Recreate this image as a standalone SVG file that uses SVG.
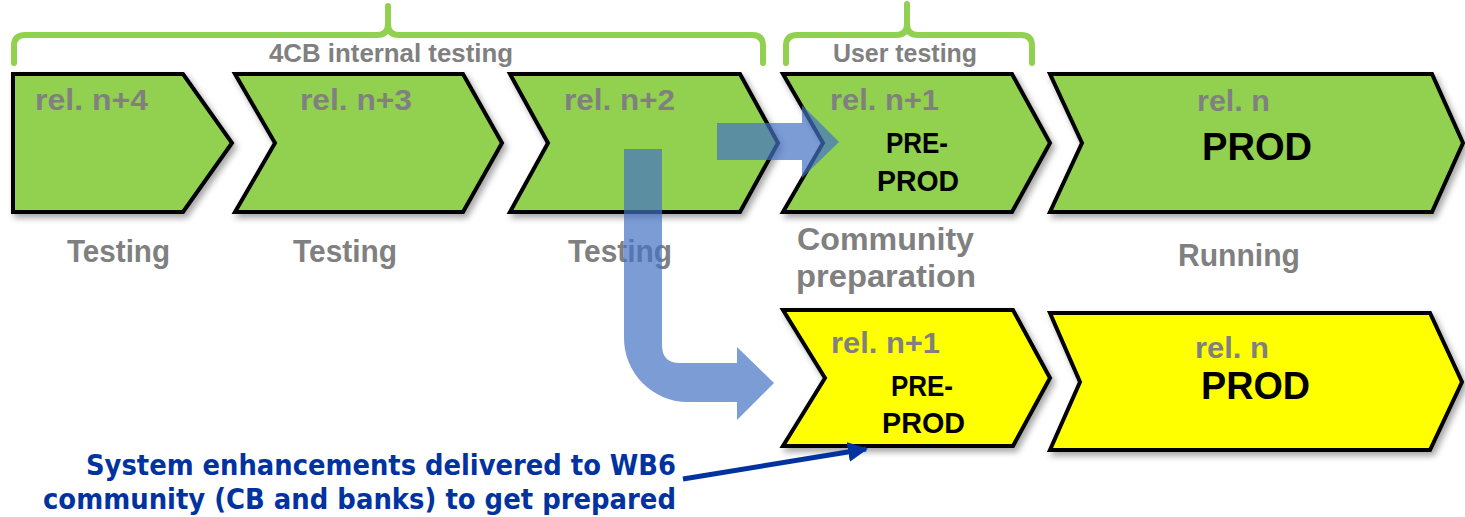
<svg xmlns="http://www.w3.org/2000/svg" width="1465" height="517" viewBox="0 0 1465 517">
<style>
.chev{stroke:#000;stroke-width:4;stroke-linejoin:miter;filter:url(#sh)}
.g{fill:#92D050}
.y{fill:#FFFF00}
.lbl{font-family:"Liberation Sans",Arial,sans-serif;font-weight:bold;fill:#808080}
.blk{font-family:"Liberation Sans",Arial,sans-serif;font-weight:bold;fill:#000}
.brace{fill:none;stroke:#92D050;stroke-width:6;stroke-linecap:round;stroke-linejoin:round}
.big{fill:#4472C4;fill-opacity:0.7}
.note{font-family:"DejaVu Sans Condensed","DejaVu Sans",sans-serif;font-weight:bold;fill:#0033A0;font-size:29px}
</style>
<defs>
<filter id="sh" x="-10%" y="-10%" width="130%" height="140%">
<feDropShadow dx="3" dy="4" stdDeviation="3" flood-color="#000" flood-opacity="0.35"/>
</filter>
<marker id="ah" viewBox="0 0 10 10" refX="9" refY="5" markerWidth="4" markerHeight="4" orient="auto" markerUnits="strokeWidth">
<path d="M0,0 L10,5 L0,10 Z" fill="#0033A0"/>
</marker>
</defs>

<g id="braces">
<path class="brace" d="M14,63 V46 Q14,35 25,35 H377 Q388,35 388,24 V6 M388,24 Q388,35 399,35 H752 Q763,35 763,46 V63"/>
<text class="lbl" x="269" y="62" font-size="26" textLength="244" lengthAdjust="spacingAndGlyphs">4CB internal testing</text>
<path class="brace" d="M786,63 V46 Q786,35 797,35 H896 Q907,35 907,24 V4 M907,24 Q907,35 918,35 H1021 Q1032,35 1032,46 V63"/>
<text class="lbl" x="833" y="62" font-size="26" textLength="144" lengthAdjust="spacingAndGlyphs">User testing</text>
</g>

<g id="rel-n4">
<path class="chev g" d="M13,74 H183 L232,143 L183,212 H13 Z"/>
<text class="lbl" x="35" y="110" font-size="29" textLength="113" lengthAdjust="spacingAndGlyphs">rel. n+4</text>
<text class="lbl" x="67" y="262" font-size="31" textLength="103" lengthAdjust="spacingAndGlyphs">Testing</text>
</g>

<g id="rel-n3">
<path class="chev g" d="M235,74 H463 L502,143 L463,212 H235 L275,143 Z"/>
<text class="lbl" x="300" y="110" font-size="29" textLength="112" lengthAdjust="spacingAndGlyphs">rel. n+3</text>
<text class="lbl" x="293" y="262" font-size="31" textLength="104" lengthAdjust="spacingAndGlyphs">Testing</text>
</g>

<g id="rel-n2">
<path class="chev g" d="M510,74 H740 L778,143 L740,212 H510 L548,143 Z"/>
<text class="lbl" x="564" y="110" font-size="29" textLength="111" lengthAdjust="spacingAndGlyphs">rel. n+2</text>
<text class="lbl" x="568" y="262" font-size="31" textLength="104" lengthAdjust="spacingAndGlyphs">Testing</text>
</g>

<g id="rel-n1">
<path class="chev g" d="M783,74 H1012 L1050,143 L1012,212 H783 L823,143 Z"/>
<text class="lbl" x="830" y="110" font-size="29" textLength="109" lengthAdjust="spacingAndGlyphs">rel. n+1</text>
<text class="blk" x="886" y="153" font-size="30" textLength="62" lengthAdjust="spacingAndGlyphs">PRE-</text>
<text class="blk" x="877" y="191" font-size="30" textLength="82" lengthAdjust="spacingAndGlyphs">PROD</text>
<text class="lbl" x="797" y="250" font-size="31" textLength="177" lengthAdjust="spacingAndGlyphs">Community</text>
<text class="lbl" x="796" y="287" font-size="31" textLength="180" lengthAdjust="spacingAndGlyphs">preparation</text>
</g>

<g id="rel-n">
<path class="chev g" d="M1050,74 H1432 L1463,143 L1432,212 H1050 L1082,143 Z"/>
<text class="lbl" x="1197" y="111" font-size="29" textLength="73" lengthAdjust="spacingAndGlyphs">rel. n</text>
<text class="blk" x="1202" y="160" font-size="39" textLength="110" lengthAdjust="spacingAndGlyphs">PROD</text>
<text class="lbl" x="1178" y="266" font-size="31" textLength="122" lengthAdjust="spacingAndGlyphs">Running</text>
</g>

<g id="community-n1">
<path class="chev y" d="M783,310 H1013 L1050,378 L1013,446 H783 L825,378 Z"/>
<text class="lbl" x="831" y="353" font-size="29" textLength="109" lengthAdjust="spacingAndGlyphs">rel. n+1</text>
<text class="blk" x="891" y="396" font-size="30" textLength="62" lengthAdjust="spacingAndGlyphs">PRE-</text>
<text class="blk" x="882" y="433" font-size="30" textLength="83" lengthAdjust="spacingAndGlyphs">PROD</text>
</g>

<g id="community-n">
<path class="chev y" d="M1050,313 H1430 L1462,382 L1430,450 H1050 L1080,382 Z"/>
<text class="lbl" x="1195" y="358" font-size="29" textLength="74" lengthAdjust="spacingAndGlyphs">rel. n</text>
<text class="blk" x="1201" y="399" font-size="39" textLength="109" lengthAdjust="spacingAndGlyphs">PROD</text>
</g>

<g id="note">
<text class="note" x="676" y="475" text-anchor="end" textLength="590" lengthAdjust="spacingAndGlyphs">System enhancements delivered to WB6</text>
<text class="note" x="676" y="509" text-anchor="end" textLength="633" lengthAdjust="spacingAndGlyphs">community (CB and banks) to get prepared</text>
</g>

<g id="connectors">
<path class="big" d="M717,123 H802 V105 L839,142 L802,178 V160 H717 Z"/>
<path class="big" d="M624,149 H662 V345 Q662,363 680,363 H737 V347 L774,383 L737,420 V402 H688 A64,64 0 0 1 624,338 Z"/>
<line x1="683" y1="479" x2="866" y2="449" stroke="#0033A0" stroke-width="5" marker-end="url(#ah)"/>
</g>
</svg>
